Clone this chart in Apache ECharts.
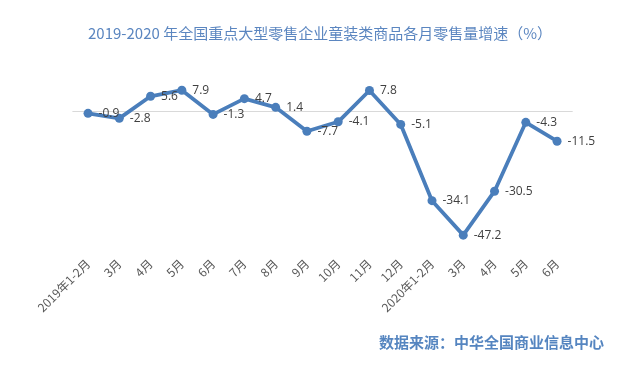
<!DOCTYPE html>
<html><head><meta charset="utf-8">
<script src="https://cdn.jsdelivr.net/npm/echarts@6/dist/echarts.min.js"></script>
<style>html,body{margin:0;padding:0;background:#fff}#c{width:640px;height:372px}</style>
</head><body><div id="c"></div>
<script>
const categories = ['2019年1-2月','3月','4月','5月','6月','7月','8月','9月','10月','11月','12月','2020年1-2月','3月','4月','5月','6月'];
const values = [-0.9,-2.8,5.6,7.9,-1.3,4.7,1.4,-7.7,-4.1,7.8,-5.1,-34.1,-47.2,-30.5,-4.3,-11.5];
const titleText = '2019-2020 年全国重点大型零售企业童装类商品各月零售量增速（%）';
const sourceText = '数据来源：中华全国商业信息中心';

const chart = echarts.init(document.getElementById('c'));
chart.setOption({
  backgroundColor:'#fff',
  animation:false,
  title:[{text:titleText,left:'center',top:21,textStyle:{fontFamily:'Noto Sans CJK SC',fontSize:15,fontWeight:'normal',color:'#5b86c0'}},
         {text:sourceText,right:31,top:330,textStyle:{fontFamily:'Noto Sans CJK SC',fontSize:15,fontWeight:'bold',color:'#5585c0'}}],
  grid:{left:72.4,right:67.3,top:84.7,height:157.8},
  xAxis:{type:'category',data:categories,boundaryGap:true,
    axisLine:{show:false},axisTick:{show:false},
    axisLabel:{rotate:45,margin:19,fontSize:12,color:'#595959',fontFamily:'Noto Sans CJK SC',interval:0}},
  yAxis:{type:'value',min:-50,max:10,show:false,splitLine:{show:false}},
  series:[{type:'line',data:values,symbol:'circle',symbolSize:9,
    lineStyle:{color:'#4a7ebb',width:3.8},itemStyle:{color:'#4a7ebb'},
    label:{show:true,position:'right',distance:6,fontSize:12,color:'#404040',fontFamily:'Open Sans'},
    markLine:{silent:true,symbol:'none',label:{show:false},lineStyle:{color:'#d9d9d9',width:1,type:'solid'},data:[{yAxis:0}],z:1},
    z:3}]
});
</script></body></html>
